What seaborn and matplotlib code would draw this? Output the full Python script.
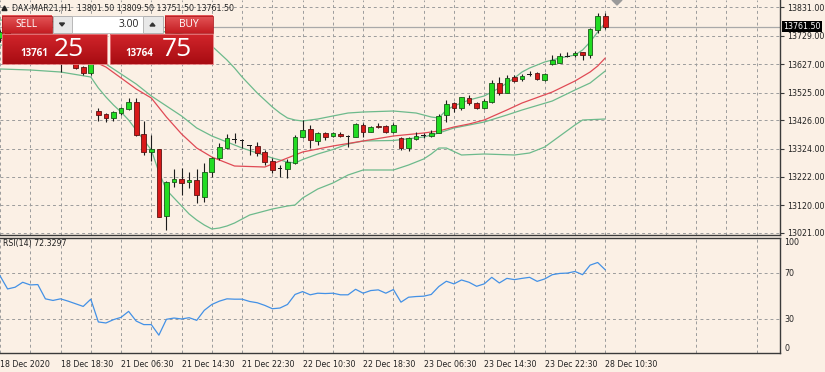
import numpy as np
import matplotlib
matplotlib.use("Agg")
import matplotlib.pyplot as plt
import matplotlib.transforms as mtransforms
from matplotlib.patches import Rectangle, Polygon
from matplotlib.colors import LinearSegmentedColormap
import seaborn as sns

# ---- values: DAX-MAR21, H1 ----
bars = np.arange(81)
opens = [13720.8, 13742.4, 13695.7, 13702.9, 13720.8, 13710.0, 13713.6, 13652.6, 13645.5, 13652.6,
         13634.7, 13616.7, 13594.1, 13458.8, 13447.0, 13432.6, 13450.6, 13464.9, 13492.2, 13375.2,
         13311.7, 13321.4, 13082.0, 13202.9, 13214.8, 13202.9, 13211.2, 13151.2, 13241.0, 13289.1,
         13324.9, 13356.5, 13354.8, 13334.3, 13333.2, 13310.6, 13280.4, 13253.2, 13249.6, 13271.1,
         13366.6, 13393.1, 13352.2, 13380.9, 13370.2, 13377.4, 13369.1, 13366.6, 13408.6, 13384.5,
         13406.1, 13406.1, 13384.5, 13360.8, 13324.9, 13359.4, 13371.6, 13369.1, 13380.9, 13444.5,
         13486.5, 13468.5, 13504.4, 13488.6, 13468.5, 13492.2, 13558.2, 13524.5, 13579.8, 13572.6,
         13591.6, 13594.1, 13570.1, 13627.5, 13632.2, 13653.7, 13659.8, 13669.5, 13659.8, 13749.5,
         13801.5]
highs = [13749.5, 13749.5, 13713.6, 13731.6, 13728.0, 13720.8, 13717.2, 13663.4, 13659.8, 13663.4,
         13641.9, 13620.3, 13641.9, 13469.6, 13450.6, 13458.8, 13474.3, 13506.5, 13506.5, 13422.9,
         13372.7, 13324.2, 13207.6, 13249.6, 13255.3, 13241.0, 13249.6, 13271.1, 13294.8, 13342.9,
         13376.3, 13378.8, 13357.3, 13336.8, 13348.6, 13318.9, 13289.1, 13265.0, 13285.5, 13372.7,
         13426.5, 13408.6, 13384.5, 13382.4, 13384.5, 13382.4, 13372.7, 13414.7, 13414.7, 13405.0,
         13414.7, 13408.6, 13414.7, 13364.4, 13366.6, 13384.5, 13378.8, 13390.6, 13447.0, 13498.3,
         13492.2, 13510.1, 13516.2, 13492.2, 13500.8, 13570.1, 13579.8, 13588.0, 13588.0, 13591.6,
         13603.5, 13599.9, 13596.3, 13659.8, 13665.9, 13671.6, 13675.2, 13671.6, 13755.6, 13811.6,
         13809.5]
lows = [13706.5, 13684.9, 13684.9, 13695.7, 13699.3, 13702.9, 13641.9, 13634.7, 13598.8, 13631.1,
        13611.3, 13589.8, 13588.0, 13422.9, 13420.4, 13422.9, 13444.5, 13462.4, 13370.2, 13300.9,
        13279.4, 13078.4, 13031.7, 13185.0, 13157.3, 13181.4, 13127.6, 13133.3, 13223.0, 13283.0,
        13322.4, 13342.9, 13324.9, 13300.9, 13297.3, 13265.0, 13235.2, 13220.9, 13217.3, 13268.6,
        13360.8, 13324.9, 13336.8, 13354.8, 13364.4, 13365.5, 13329.6, 13364.4, 13366.6, 13382.4,
        13396.7, 13380.9, 13380.9, 13318.9, 13316.3, 13354.8, 13360.8, 13364.4, 13378.8, 13420.4,
        13456.3, 13462.4, 13480.4, 13464.9, 13464.9, 13486.5, 13516.2, 13522.3, 13564.0, 13567.6,
        13584.4, 13570.1, 13567.6, 13625.7, 13630.0, 13651.6, 13653.7, 13641.9, 13648.0, 13739.8,
        13751.5]
closes = [13742.4, 13695.7, 13702.9, 13720.8, 13710.0, 13713.6, 13652.6, 13645.5, 13652.6, 13634.7,
          13614.9, 13597.0, 13631.1, 13444.5, 13434.8, 13454.1, 13468.5, 13492.2, 13372.7, 13312.8,
          13323.5, 13079.5, 13205.1, 13214.8, 13199.3, 13211.2, 13157.3, 13238.8, 13289.1, 13328.5,
          13360.8, 13358.3, 13353.7, 13334.3, 13308.1, 13274.7, 13247.1, 13252.1, 13274.7, 13366.6,
          13390.6, 13354.8, 13378.8, 13366.6, 13378.8, 13370.2, 13368.0, 13411.1, 13384.5, 13400.3,
          13400.3, 13384.5, 13408.6, 13324.9, 13360.8, 13369.1, 13372.7, 13378.8, 13440.9, 13482.9,
          13468.5, 13508.0, 13488.6, 13470.7, 13494.7, 13559.3, 13524.5, 13579.0, 13567.6, 13585.5,
          13590.5, 13572.6, 13591.6, 13641.9, 13656.2, 13654.4, 13668.1, 13659.8, 13752.0, 13799.8,
          13761.5]
rsi = [67.2, 55.7, 57.2, 61.5, 59.2, 59.5, 47.1, 45.7, 47.1, 45.1, 42.8, 40.5, 46.8,
       27.0, 26.1, 29.0, 31.0, 36.2, 27.8, 24.7, 24.7, 15.5, 29.3, 30.4, 29.6, 30.7, 28.4,
       37.1, 42.2, 45.1, 47.1, 46.8, 46.8, 44.8, 43.7, 41.4, 38.5, 39.1, 42.2, 50.9,
       53.4, 50.6, 52.0, 51.7, 52.0, 50.6, 50.6, 55.4, 52.0, 54.3, 54.9, 52.0, 55.2,
       44.2, 48.5, 49.1, 49.4, 50.9, 57.8, 62.4, 60.1, 63.5, 61.5, 58.0, 60.1,
       65.8, 60.9, 64.9, 63.8, 64.9, 65.8, 62.3, 64.4, 68.1, 69.2, 69.5, 70.9, 68.1, 76.4, 78.7, 72.3297]

# indicator lines, sampled at the bars where they could be read
ema_bars = [0, 6, 10, 12, 14, 16, 18, 20, 22, 24, 26, 28, 31, 35, 37, 40, 44, 48, 52, 56, 58, 60,
            62, 64, 67, 69, 73, 76, 78, 79, 80]
ema_vals = [13713.6, 13695.7, 13659.8, 13641.9, 13616.7, 13577.3, 13537.8, 13505.5, 13437.3, 13376.3,
            13326.0, 13293.7, 13261.4, 13257.8, 13279.4, 13311.7, 13333.2, 13351.2, 13369.1, 13379.9,
            13387.0, 13401.4, 13412.2, 13426.5, 13462.4, 13487.5, 13527.0, 13566.5, 13598.8, 13620.3,
            13649.0]
mid_bars = [0, 6, 10, 12, 14, 16, 18, 20, 22, 24, 26, 28, 30, 32, 34, 36, 38, 39, 40, 42, 44, 46, 48,
            52, 56, 58, 60, 64, 67, 69, 73, 76, 78, 80]
mid_vals = [13695.7, 13684.9, 13659.8, 13649.0, 13627.5, 13591.6, 13555.7, 13512.7, 13476.8, 13440.9,
            13397.8, 13369.1, 13347.6, 13326.0, 13308.1, 13290.2, 13275.8, 13272.2, 13284.7, 13304.5,
            13320.6, 13340.4, 13351.2, 13353.0, 13365.5, 13380.0, 13397.8, 13419.3, 13444.5, 13462.4,
            13494.7, 13534.2, 13559.3, 13602.4]
upper_bars = [0, 8, 12, 16, 20, 24, 27, 28, 29, 30, 31, 32, 33, 34, 35, 36, 37, 38, 39, 40, 42, 44, 46,
              48, 52, 55, 57, 58, 59, 60, 62, 64, 66, 68, 69, 70, 72, 73, 74, 76, 77, 78, 79, 80]
upper_vals = [13785.4, 13778.2, 13767.5, 13756.7, 13749.5, 13735.2, 13713.6, 13692.1, 13667.0, 13641.9,
              13613.1, 13580.8, 13552.1, 13523.4, 13498.3, 13473.2, 13451.6, 13433.7, 13426.5, 13422.9,
              13430.1, 13440.9, 13451.6, 13455.2, 13458.8, 13451.6, 13437.3, 13433.7, 13462.4, 13476.8,
              13498.3, 13512.7, 13541.4, 13577.3, 13598.8, 13613.1, 13634.7, 13641.9, 13649.0, 13659.8,
              13677.7, 13706.5, 13742.4, 13774.7]
lower_bars = [0, 4, 8, 12, 13, 14, 15, 16, 17, 18, 19, 20, 21, 22, 23, 24, 25, 26, 27, 28, 29, 30, 31,
              32, 33, 34, 36, 38, 39, 40, 42, 44, 46, 48, 52, 54, 56, 57, 58, 59, 61, 64, 68, 70, 72,
              74, 76, 77, 80]
lower_vals = [13609.6, 13606.0, 13598.8, 13580.8, 13541.4, 13509.1, 13480.4, 13455.2, 13426.5, 13390.6,
              13354.7, 13318.9, 13239.9, 13175.3, 13146.6, 13117.9, 13089.2, 13067.6, 13049.7, 13035.3,
              13038.9, 13046.1, 13056.8, 13071.2, 13085.6, 13092.7, 13107.1, 13117.9, 13121.5, 13146.6,
              13178.9, 13200.4, 13229.1, 13247.1, 13247.1, 13265.0, 13286.6, 13304.5, 13326.0, 13326.0,
              13300.9, 13304.5, 13300.9, 13308.1, 13329.6, 13369.1, 13408.6, 13426.5, 13430.1]

bid = 13761.5
price_ticks = [13021, 13120, 13222, 13324, 13426, 13525, 13627, 13729, 13831]
rsi_ticks = [0, 30, 70, 100]
time_ticks = [0, 8, 16, 24, 32, 40, 48, 56, 64, 72, 80]
time_labels = ["18 Dec 2020", "18 Dec 18:30", "21 Dec 06:30", "21 Dec 14:30", "21 Dec 22:30",
               "22 Dec 10:30", "22 Dec 18:30", "23 Dec 06:30", "23 Dec 14:30", "23 Dec 22:30",
               "28 Dec 10:30"]

BG = "#fbf0e5"
GRID = "#9c9c9c"
FRAME = "#3a3a3a"
BAND = "#6dba8c"
EMA = "#e04a55"
FS = 5.7

sns.set_theme(style="white", rc={"axes.facecolor": BG, "figure.facecolor": BG})
plt.rcParams["font.family"] = ["DejaVu Sans"]

W, H = 825, 372
def box(x0, y0, x1, y1):
    return [x0 / W, 1 - y1 / H, (x1 - x0) / W, (y1 - y0) / H]

fig = plt.figure(figsize=(8.25, 3.72), dpi=100)
ax = fig.add_axes(box(0, 0, 780, 235))
ax_rsi = fig.add_axes(box(0, 238, 780, 353))

xlim = (0.066, 103.1)

# ---- price panel ----
o = np.array(opens); c = np.array(closes)
hi = np.array(highs); lo = np.array(lows)
ax.vlines(bars, lo, hi, color="#1c1c1c", lw=0.8, zorder=3)
bottom = np.minimum(o, c)
height = np.abs(c - o)
doji = height < 2.0
up = (c > o) & ~doji
dn = (c < o) & ~doji
ax.bar(bars[up], height[up], bottom=bottom[up], width=0.62, color="#22dc22",
       edgecolor="#1a5a1a", linewidth=0.6, zorder=4)
ax.bar(bars[dn], height[dn], bottom=bottom[dn], width=0.62, color="#d81818",
       edgecolor="#5a1414", linewidth=0.6, zorder=4)
ax.bar(bars[doji], 1.6, bottom=bottom[doji] - 0.8, width=0.62, color="#1c1c1c",
       linewidth=0, zorder=4)

for kk, vv, col in [(upper_bars, upper_vals, BAND), (lower_bars, lower_vals, BAND),
                    (mid_bars, mid_vals, BAND), (ema_bars, ema_vals, EMA)]:
    sns.lineplot(x=kk, y=vv, ax=ax, color=col, linewidth=0.9, estimator=None, zorder=2)

ax.axhline(bid, color="#a9a9a9", lw=0.9, zorder=1)

ax.set_xlim(*xlim)
ax.set_ylim(13013.8, 13857.2)
ax.set_xticks(np.arange(0, 104, 4))
ax.set_xticklabels([])
ax.tick_params(axis="x", length=0)
ax.set_yticks(price_ticks)
ax.set_yticklabels([f"{p:.2f}" for p in price_ticks])
ax.yaxis.tick_right()
ax.tick_params(axis="y", direction="out", length=3, width=0.8, pad=2,
               labelsize=FS, colors=FRAME, labelcolor="#222222")
ax.grid(True, ls=(0, (3, 3)), color=GRID, lw=0.7)
ax.set_axisbelow(True)
ax.set_xlabel(""); ax.set_ylabel("")
for s in ["left", "top"]:
    ax.spines[s].set_visible(False)
for s in ["right", "bottom"]:
    ax.spines[s].set_color(FRAME); ax.spines[s].set_linewidth(1.0); ax.spines[s].set_zorder(6)

tr = mtransforms.blended_transform_factory(ax.transAxes, ax.transData)
ax.text(1.004, bid, f"{bid:.2f}", transform=tr, ha="left", va="center", fontsize=FS,
        color="white", clip_on=False, zorder=10,
        bbox=dict(facecolor="black", edgecolor="none", pad=0.9))

# ---- RSI panel ----
sns.lineplot(x=bars, y=rsi, ax=ax_rsi, color="#4391e6", linewidth=0.9, estimator=None)
ax_rsi.set_xlim(*xlim)
ax_rsi.set_ylim(0, 100)
ax_rsi.set_xticks(time_ticks)
ax_rsi.set_xticklabels(time_labels)
ax_rsi.set_xticks(np.arange(4, 104, 8), minor=True)
ax_rsi.tick_params(axis="x", which="major", direction="out", length=3, width=0.8, pad=2,
                   labelsize=FS, colors=FRAME, labelcolor="#222222")
ax_rsi.tick_params(axis="x", which="minor", length=0)
ax_rsi.xaxis.grid(True, which="both", ls=(0, (3, 3)), color=GRID, lw=0.7)
for lbl in ax_rsi.get_xticklabels():
    lbl.set_ha("left")
for lvl in [30, 70]:
    ax_rsi.axhline(lvl, ls=(0, (3, 3)), color=GRID, lw=0.7, zorder=0)
ax_rsi.set_yticks(rsi_ticks)
ax_rsi.set_yticklabels([str(t) for t in rsi_ticks])
ax_rsi.yaxis.tick_right()
ax_rsi.tick_params(axis="y", direction="out", length=0, pad=3, labelsize=FS,
                   labelcolor="#222222")
ylbls = ax_rsi.get_yticklabels()
ylbls[0].set_va("bottom")
ylbls[-1].set_va("top")
ax_rsi.set_xlabel(""); ax_rsi.set_ylabel("")
ax_rsi.spines["left"].set_visible(False)
for s in ["right", "bottom", "top"]:
    ax_rsi.spines[s].set_color(FRAME); ax_rsi.spines[s].set_linewidth(1.0); ax_rsi.spines[s].set_zorder(6)

# ---- overlay: header text and one-click trading panel (pixel space) ----
ov = fig.add_axes([0, 0, 1, 1], zorder=20)
ov.set_xlim(0, W); ov.set_ylim(H, 0); ov.axis("off")
ov.patch.set_alpha(0)

ov.add_patch(Polygon([(2, 10.5), (7, 10.5), (4.5, 6)], closed=True, color="#222222"))
ov.text(12, 8.3, "DAX-MAR21,H1  13801.50 13809.50 13751.50 13761.50", fontsize=FS,
        color="#222222", va="center", ha="left")
ov.add_patch(Polygon([(612, 0), (622, 0), (617, 5)], closed=True, color="#9a9a9a"))
ov.text(3, 243.5, "RSI(14) 72.3297", fontsize=FS, color="#222222", va="center", ha="left")

def grad(x0, y0, x1, y1, top, bot, edge):
    cmap = LinearSegmentedColormap.from_list("g", [top, bot])
    ov.imshow(np.linspace(0, 1, 64)[:, None], extent=(x0, x1, y1, y0), cmap=cmap,
              aspect="auto", zorder=21, interpolation="bilinear")
    ov.add_patch(Rectangle((x0, y0), x1 - x0, y1 - y0, fill=False, ec=edge, lw=0.6, zorder=22))

grad(1.5, 15.5, 51.5, 33, "#e5585a", "#c41d22", "#b01a1f")
grad(165, 15.5, 212.5, 33, "#e5585a", "#c41d22", "#b01a1f")
grad(1.5, 34, 106.5, 64, "#d1252b", "#a80c12", "#e77a7d")
grad(109.5, 34, 212.5, 64, "#d1252b", "#a80c12", "#e77a7d")
ov.set_xlim(0, W); ov.set_ylim(H, 0)
ov.add_patch(Rectangle((53, 15.5), 18.5, 17.5, fc="#e8e8e8", ec="#a8a8a8", lw=0.6, zorder=21))
ov.add_patch(Rectangle((143, 15.5), 19.5, 17.5, fc="#e8e8e8", ec="#a8a8a8", lw=0.6, zorder=21))
ov.add_patch(Rectangle((71.5, 15.5), 71.5, 17.5, fc="white", ec="#b4b4b4", lw=0.6, zorder=21))
ov.add_patch(Polygon([(59.5, 23), (64.5, 23), (62, 26)], closed=True, color="#333333", zorder=23))
ov.add_patch(Polygon([(150, 26), (155, 26), (152.5, 23)], closed=True, color="#333333", zorder=23))

wfont = ["Open Sans", "DejaVu Sans"]
ov.text(26.5, 24.5, "SELL", fontsize=7.4, color="white", ha="center", va="center", zorder=23,
        family=wfont)
ov.text(188.7, 24.5, "BUY", fontsize=7.4, color="white", ha="center", va="center", zorder=23,
        family=wfont)
ov.text(139, 24.5, "3.00", fontsize=7.4, color="#222222", ha="right", va="center", zorder=23,
        family=wfont)
ov.text(20, 54, "13761", fontsize=7.0, color="white", fontweight="bold", ha="left",
        va="center", zorder=23, family=wfont)
ov.text(54, 49.5, "25", fontsize=19, color="white", ha="left", va="center", zorder=23,
        family=wfont)
ov.text(125, 54, "13764", fontsize=7.0, color="white", fontweight="bold", ha="left",
        va="center", zorder=23, family=wfont)
ov.text(162, 49.5, "75", fontsize=19, color="white", ha="left", va="center", zorder=23,
        family=wfont)

fig.savefig("out.png", dpi=100, facecolor=BG)
